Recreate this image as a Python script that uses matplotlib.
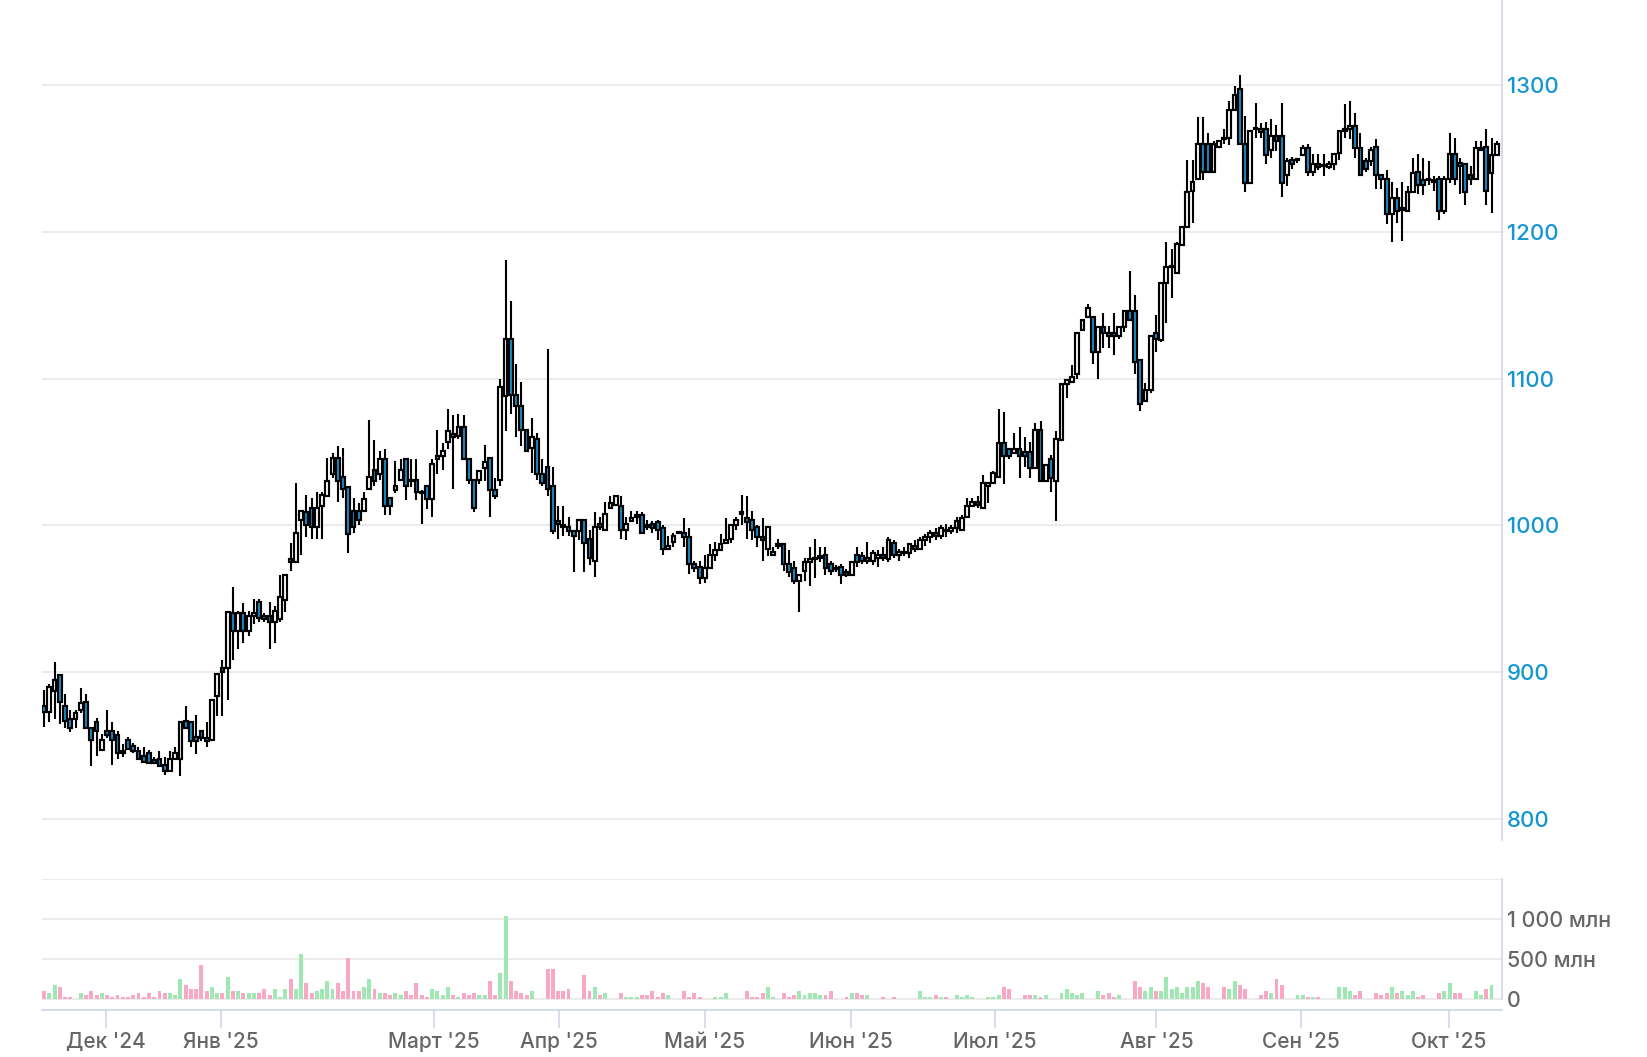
import numpy as np
import matplotlib
matplotlib.use('Agg')
import matplotlib.pyplot as plt

plt.rcParams['font.family'] = ['Inter', 'DejaVu Sans']

# daily candles, Nov '24 - Oct '25
opn = [877, 873, 887, 898, 877, 868, 868, 874, 880, 862,
       866, 847, 860, 860, 857, 846, 854, 850, 846, 843,
       845, 840, 841, 837, 833, 841, 841, 867, 866, 856,
       860, 855, 854, 884, 903, 903, 940, 928, 940, 928,
       938, 948, 938, 938, 934, 936, 949, 977, 975, 1004,
       1009, 1012, 999, 1013, 1020, 1035, 1046, 1033, 1026, 1010,
       1010, 1010, 1025, 1038, 1035, 1045, 1019, 1024, 1031, 1045,
       1031, 1031, 1023, 1027, 1018, 1045, 1047, 1057, 1062, 1061,
       1067, 1045, 1031, 1031, 1039, 1046, 1024, 1031, 1088, 1127,
       1089, 1081, 1065, 1053, 1059, 1035, 1040, 1027, 1003, 1000,
       999, 996, 996, 1004, 991, 976, 1001, 997, 1012, 1014,
       1013, 997, 1003, 1006, 1007, 1000, 1001, 1002, 998, 984,
       989, 995, 995, 992, 974, 972, 964, 971, 980, 983,
       988, 991, 1000, 1009, 1005, 1004, 999, 992, 984, 980,
       987, 987, 974, 971, 962, 969, 975, 977, 978, 980,
       974, 970, 972, 968, 966, 980, 979, 976, 976, 978,
       980, 977, 988, 980, 982, 981, 986, 984, 990, 992,
       995, 993, 997, 996, 998, 997, 1006, 1013, 1016, 1012,
       1027, 1029, 1033, 1056, 1052, 1049, 1052, 1050, 1050, 1039,
       1065, 1030, 1045, 1030, 1058, 1096, 1098, 1103, 1133, 1142,
       1142, 1118, 1135, 1131, 1131, 1129, 1135, 1146, 1146, 1113,
       1085, 1092, 1131, 1126, 1165, 1176, 1172, 1191, 1203, 1228,
       1236, 1260, 1260, 1241, 1258, 1264, 1264, 1283, 1297, 1260,
       1233, 1270, 1270, 1270, 1256, 1265, 1265, 1239, 1249, 1249,
       1252, 1257, 1241, 1246, 1245, 1244, 1246, 1254, 1269, 1270,
       1272, 1257, 1248, 1248, 1258, 1239, 1236, 1212, 1223, 1215,
       1214, 1227, 1241, 1235, 1236, 1235, 1236, 1214, 1236, 1253,
       1247, 1246, 1239, 1236, 1256, 1258, 1240, 1252]
high = [888, 892, 907, 899, 885, 874, 874, 889, 885, 862,
        869, 858, 874, 866, 860, 851, 856, 852, 849, 849,
        847, 842, 846, 842, 846, 849, 866, 877, 866, 871,
        860, 866, 882, 899, 908, 941, 958, 942, 947, 942,
        950, 950, 940, 948, 945, 966, 966, 988, 1029, 1010,
        1021, 1019, 1023, 1023, 1046, 1049, 1054, 1053, 1026, 1019,
        1015, 1023, 1072, 1058, 1051, 1052, 1019, 1044, 1045, 1045,
        1045, 1045, 1024, 1027, 1045, 1065, 1056, 1079, 1075, 1076,
        1075, 1045, 1031, 1037, 1055, 1046, 1032, 1100, 1181, 1153,
        1110, 1098, 1065, 1073, 1063, 1045, 1120, 1040, 1013, 1013,
        1006, 996, 1004, 1004, 997, 1009, 1006, 1016, 1020, 1020,
        1020, 1006, 1010, 1010, 1009, 1004, 1003, 1004, 1000, 993,
        995, 996, 1005, 998, 976, 976, 980, 987, 989, 994,
        1005, 1000, 1006, 1021, 1020, 1010, 1000, 1005, 999, 985,
        991, 987, 983, 976, 966, 978, 985, 991, 985, 985,
        976, 973, 974, 970, 975, 985, 982, 989, 983, 983,
        985, 992, 990, 984, 985, 988, 990, 992, 994, 997,
        998, 1000, 1001, 1000, 1006, 1007, 1019, 1019, 1020, 1034,
        1029, 1037, 1079, 1077, 1052, 1063, 1067, 1060, 1057, 1070,
        1071, 1041, 1048, 1064, 1096, 1099, 1109, 1131, 1140, 1151,
        1142, 1136, 1145, 1136, 1145, 1135, 1146, 1173, 1157, 1113,
        1097, 1129, 1143, 1165, 1193, 1188, 1193, 1203, 1249, 1249,
        1278, 1278, 1267, 1262, 1262, 1270, 1289, 1299, 1307, 1279,
        1269, 1288, 1274, 1275, 1277, 1273, 1288, 1250, 1251, 1250,
        1259, 1260, 1253, 1253, 1253, 1248, 1253, 1269, 1287, 1289,
        1281, 1267, 1250, 1258, 1263, 1239, 1242, 1234, 1230, 1234,
        1231, 1250, 1253, 1250, 1248, 1238, 1238, 1238, 1267, 1264,
        1250, 1246, 1245, 1262, 1262, 1270, 1264, 1262]
low = [863, 866, 868, 865, 862, 859, 862, 872, 861, 836,
       843, 847, 855, 837, 841, 842, 848, 845, 840, 839,
       838, 838, 836, 830, 833, 841, 829, 861, 849, 844,
       853, 849, 854, 870, 870, 881, 908, 916, 920, 925,
       933, 934, 934, 916, 920, 934, 941, 969, 975, 980,
       992, 991, 991, 991, 1020, 1032, 1016, 1019, 981, 995,
       1000, 1010, 1025, 1027, 1031, 1007, 1007, 1022, 1031, 1017,
       1026, 1017, 1001, 1011, 1006, 1035, 1038, 1052, 1025, 1059,
       1045, 1028, 1009, 1028, 1030, 1006, 1018, 1027, 1064, 1076,
       1060, 1054, 1050, 1036, 1031, 1027, 1020, 994, 991, 993,
       993, 968, 990, 968, 973, 965, 997, 997, 1012, 1013,
       991, 990, 1003, 1001, 995, 997, 995, 990, 980, 984,
       985, 994, 985, 967, 968, 960, 961, 971, 976, 983,
       988, 988, 997, 1000, 991, 990, 985, 976, 979, 979,
       984, 969, 965, 960, 941, 962, 959, 964, 975, 966,
       966, 968, 960, 965, 966, 972, 974, 974, 973, 972,
       976, 975, 978, 976, 979, 978, 982, 983, 986, 988,
       990, 991, 992, 994, 995, 996, 1005, 1013, 1012, 1012,
       1015, 1029, 1033, 1028, 1045, 1049, 1032, 1040, 1032, 1039,
       1030, 1030, 1023, 1003, 1058, 1087, 1098, 1100, 1133, 1142,
       1110, 1100, 1121, 1121, 1116, 1127, 1132, 1140, 1103, 1078,
       1085, 1090, 1118, 1125, 1138, 1155, 1172, 1190, 1203, 1206,
       1236, 1235, 1241, 1241, 1258, 1260, 1259, 1283, 1260, 1227,
       1233, 1264, 1264, 1246, 1250, 1255, 1224, 1231, 1243, 1247,
       1252, 1238, 1238, 1242, 1238, 1243, 1242, 1249, 1264, 1263,
       1250, 1239, 1241, 1245, 1229, 1229, 1205, 1193, 1206, 1194,
       1214, 1227, 1226, 1225, 1232, 1228, 1208, 1212, 1233, 1232,
       1226, 1218, 1232, 1236, 1256, 1218, 1213, 1252]
close = [873, 890, 895, 880, 867, 862, 872, 879, 862, 854,
         860, 854, 857, 854, 845, 845, 848, 846, 841, 839,
         838, 838, 836, 833, 841, 845, 866, 862, 853, 853,
         855, 853, 881, 899, 900, 941, 928, 940, 928, 938,
         940, 937, 936, 934, 942, 951, 966, 975, 995, 1010,
         1000, 999, 1012, 1021, 1030, 1046, 1030, 1025, 994, 999,
         1004, 1018, 1033, 1030, 1045, 1013, 1013, 1027, 1038, 1027,
         1030, 1023, 1022, 1018, 1042, 1047, 1051, 1064, 1060, 1067,
         1045, 1031, 1012, 1037, 1043, 1024, 1020, 1094, 1127, 1089,
         1081, 1065, 1051, 1060, 1035, 1029, 1025, 996, 1001, 999,
         996, 993, 1004, 988, 978, 999, 999, 1008, 1015, 1020,
         997, 1001, 1005, 1006, 995, 999, 998, 997, 984, 986,
         993, 995, 992, 974, 971, 964, 971, 980, 983, 987,
         990, 1000, 1004, 1008, 1002, 997, 992, 990, 999, 982,
         986, 974, 968, 962, 966, 975, 977, 978, 979, 971,
         969, 971, 966, 966, 975, 975, 976, 978, 981, 980,
         978, 990, 980, 982, 981, 987, 984, 990, 992, 995,
         993, 998, 996, 998, 1003, 1005, 1013, 1016, 1014, 1029,
         1029, 1036, 1056, 1047, 1047, 1052, 1047, 1047, 1039, 1065,
         1030, 1041, 1032, 1059, 1096, 1099, 1101, 1131, 1140, 1148,
         1118, 1135, 1131, 1129, 1129, 1135, 1146, 1140, 1111, 1083,
         1092, 1129, 1127, 1165, 1176, 1177, 1192, 1203, 1227, 1234,
         1260, 1241, 1241, 1260, 1262, 1263, 1283, 1293, 1260, 1233,
         1269, 1271, 1268, 1252, 1265, 1262, 1233, 1248, 1246, 1249,
         1257, 1241, 1246, 1244, 1245, 1246, 1253, 1269, 1270, 1272,
         1257, 1239, 1243, 1256, 1239, 1236, 1212, 1223, 1214, 1216,
         1227, 1240, 1232, 1232, 1235, 1234, 1214, 1236, 1253, 1236,
         1245, 1227, 1236, 1257, 1257, 1228, 1252, 1260]
# traded volume, mln
volume = [101, 76, 177, 152, 25, 25, 0, 76, 51, 101,
          51, 76, 51, 25, 51, 25, 25, 51, 76, 25,
          76, 25, 101, 76, 76, 51, 253, 177, 127, 127,
          430, 101, 152, 76, 76, 278, 101, 101, 76, 76,
          76, 76, 127, 51, 127, 25, 127, 253, 127, 557,
          203, 76, 101, 127, 228, 127, 203, 101, 506, 101,
          101, 152, 253, 127, 76, 76, 51, 76, 51, 101,
          51, 203, 51, 25, 127, 101, 51, 152, 51, 25,
          76, 51, 76, 51, 51, 228, 51, 329, 1038, 228,
          101, 76, 51, 101, 0, 0, 380, 380, 101, 101,
          127, 0, 0, 304, 101, 152, 51, 76, 0, 0,
          76, 25, 25, 25, 51, 51, 101, 25, 76, 51,
          0, 0, 101, 25, 76, 25, 0, 0, 25, 25,
          76, 0, 0, 0, 101, 25, 25, 76, 152, 25,
          0, 76, 25, 51, 101, 51, 76, 76, 51, 51,
          101, 0, 0, 25, 76, 76, 51, 51, 0, 0,
          25, 0, 25, 0, 0, 0, 0, 101, 25, 25,
          51, 25, 25, 0, 51, 25, 51, 25, 0, 0,
          25, 25, 51, 152, 127, 0, 0, 51, 51, 51,
          25, 51, 0, 0, 76, 127, 76, 51, 76, 0,
          0, 101, 51, 76, 25, 51, 0, 0, 228, 152,
          101, 152, 101, 101, 278, 127, 152, 76, 152, 152,
          228, 203, 152, 0, 0, 152, 127, 228, 177, 127,
          0, 0, 51, 101, 76, 253, 177, 0, 0, 51,
          51, 25, 25, 25, 0, 0, 0, 152, 152, 101,
          51, 101, 0, 0, 76, 51, 76, 152, 76, 101,
          51, 101, 25, 51, 0, 0, 76, 101, 203, 76,
          76, 0, 0, 101, 51, 127, 177, 0]

month_labels = ["Дек '24", "Янв '25", "Март '25", "Апр '25", "Май '25",
                "Июн '25", "Июл '25", "Авг '25", "Сен '25", "Окт '25"]
month_pos = [11.8, 33.7, 74.3, 98.2, 126.0, 153.8, 181.3, 212.1, 239.7, 267.8]

price_ticks = [800, 900, 1000, 1100, 1200, 1300]
vol_ticks = [0, 500, 1000, 1500]
vol_labels = ['0', '500 млн', '1 000 млн', '']

AXIS = '#ccd6eb'
GRID = '#e6e6e6'
BLUE_TXT = '#1496d2'
DOWN = '#1a8cc8'
VOL_UP = '#9fe8b4'
VOL_DN = '#f8a8c5'

W, H = 1647, 1057
fig = plt.figure(figsize=(W / 100, H / 100), dpi=100)
ax = fig.add_axes([42 / W, 1 - 840 / H, 1460 / W, 840 / H])
axv = fig.add_axes([42 / W, 1 - 1010 / H, 1460 / W, 131 / H])

x = np.arange(len(close))
o = np.array(opn)
c = np.array(close)
up = c >= o

# price panel
ax.vlines(x, low, high, color='black', lw=1.5, zorder=2)
body = np.maximum(np.abs(c - o), 0.8)
ax.bar(x, body, bottom=np.minimum(o, c), width=0.72,
       color=np.where(up, 'white', DOWN), edgecolor='black', linewidth=1.55, zorder=3)
ax.set_xlim(-0.4, 278.0)
ax.set_ylim(785.7, 1357.9)
ax.set_yticks(price_ticks)
ax.yaxis.tick_right()
ax.tick_params(axis='y', length=0, pad=3.6, labelsize=16, labelcolor=BLUE_TXT)
for t in ax.get_yticklabels():
    t.set_fontweight('medium')
ax.set_xticks([])
ax.grid(axis='y', color=GRID, lw=1.1, zorder=0)
for s in ['top', 'left', 'bottom']:
    ax.spines[s].set_visible(False)
ax.spines['right'].set_color(AXIS)
ax.spines['right'].set_linewidth(1.2)

# volume panel
vol = np.array(volume)
axv.bar(x, vol, width=0.75, color=np.where(up, VOL_UP, VOL_DN), zorder=2)
axv.set_xlim(-0.4, 278.0)
axv.set_ylim(-139, 1500)
axv.set_yticks(vol_ticks)
axv.set_yticklabels(vol_labels)
axv.yaxis.tick_right()
axv.tick_params(axis='y', length=0, pad=3.6, labelsize=15.5, labelcolor='#666666')
axv.grid(axis='y', color=GRID, lw=1.1, zorder=0)
axv.set_xticks(month_pos)
axv.set_xticklabels(month_labels)
axv.tick_params(axis='x', length=13, width=1.1, color=AXIS, pad=3,
                labelsize=15, labelcolor='#666666')
for t in axv.get_xticklabels() + axv.get_yticklabels():
    t.set_fontweight('medium')
for s in ['top', 'left']:
    axv.spines[s].set_visible(False)
axv.spines['right'].set_color(AXIS)
axv.spines['right'].set_linewidth(1.2)
axv.spines['right'].set_bounds(0, 1500)
axv.spines['bottom'].set_color(AXIS)
axv.spines['bottom'].set_linewidth(1.2)

fig.savefig('out.png', dpi=100)
